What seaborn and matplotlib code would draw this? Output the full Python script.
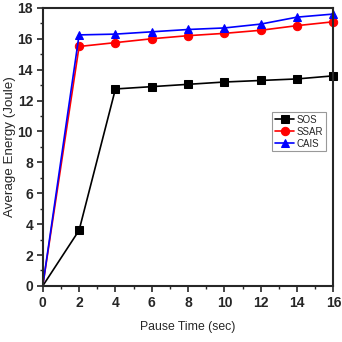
import matplotlib
matplotlib.use("Agg")
import matplotlib.pyplot as plt
from matplotlib.ticker import MultipleLocator
import seaborn as sns
import pandas as pd

pause_time = [0, 2, 4, 6, 8, 10, 12, 14, 16]
sos = [0, 3.6, 12.75, 12.9, 13.05, 13.2, 13.3, 13.4, 13.6]
ssar = [0, 15.5, 15.75, 16.0, 16.2, 16.35, 16.55, 16.85, 17.1]
cais = [0, 16.25, 16.3, 16.45, 16.6, 16.7, 16.95, 17.4, 17.6]

sns.set_style("ticks")
plt.rcParams['font.family'] = ['Liberation Sans', 'DejaVu Sans']

df = pd.DataFrame({"Pause": pause_time * 3,
                   "Energy": sos + ssar + cais,
                   "Protocol": ["SOS"] * 9 + ["SSAR"] * 9 + ["CAIS"] * 9})

fig = plt.figure(figsize=(3.42, 3.42), dpi=100)
ax = fig.add_axes([0.125, 0.164, 0.85, 0.813])

colors = {"SOS": "black", "SSAR": "red", "CAIS": "blue"}
markers = {"SOS": "s", "SSAR": "o", "CAIS": "^"}
for name in ["SOS", "SSAR", "CAIS"]:
    sub = df[df["Protocol"] == name]
    sns.lineplot(data=sub, x="Pause", y="Energy", ax=ax, color=colors[name],
                 marker=markers[name], markersize=6, markevery=list(range(1, 9)),
                 markeredgecolor=colors[name], linewidth=1.2, label=name, clip_on=False)

ax.set_xlim(0, 16)
ax.set_ylim(0, 18)
ax.xaxis.set_major_locator(MultipleLocator(2))
ax.xaxis.set_minor_locator(MultipleLocator(1))
ax.yaxis.set_major_locator(MultipleLocator(2))
ax.yaxis.set_minor_locator(MultipleLocator(1))
ax.tick_params(which="major", length=4.5, width=1.2, labelsize=10, pad=2.5)
ax.tick_params(which="minor", length=2.5, width=1)
for lbl in ax.get_xticklabels() + ax.get_yticklabels():
    lbl.set_fontweight("bold")
for sp in ax.spines.values():
    sp.set_linewidth(1.5)
    sp.set_visible(True)

ax.set_xlabel("Pause Time (sec)", fontsize=8.8, labelpad=8)
ax.set_ylabel("Average Energy (Joule)", fontsize=9.6, labelpad=1)

leg = ax.legend(loc="center right", bbox_to_anchor=(0.99, 0.555), fontsize=7,
                frameon=True, fancybox=False, edgecolor="gray", handlelength=2,
                handletextpad=0.2, borderpad=0.3, labelspacing=0.2)
leg.get_frame().set_linewidth(0.8)

fig.savefig("out.png", dpi=100)
